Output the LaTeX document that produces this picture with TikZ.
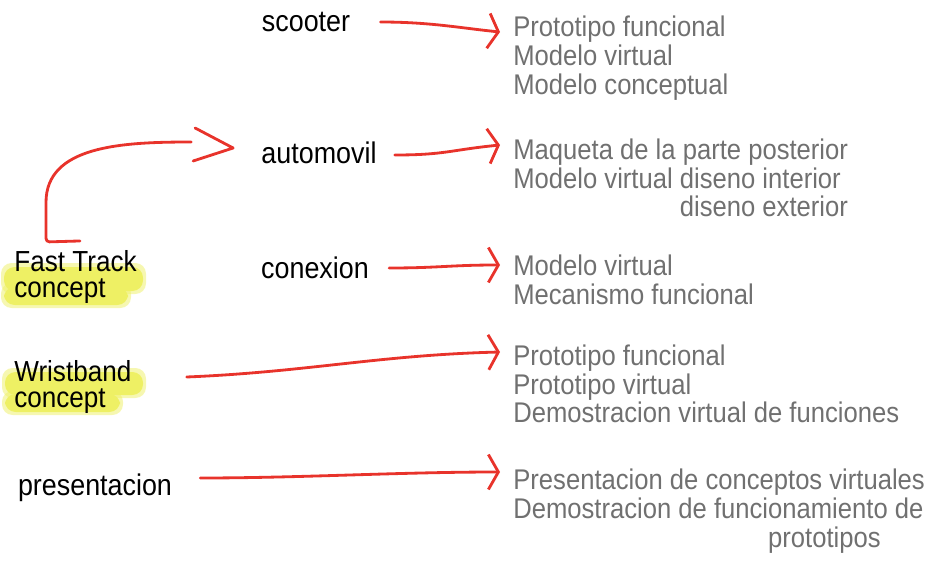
\documentclass[tikz,border=0pt]{standalone}
\usepackage{fontspec}
\newfontfamily\handfont[FakeStretch=0.9]{Liberation Sans}
\usetikzlibrary{arrows.meta, positioning, calc}
\definecolor{penred}{HTML}{E8332B}
\definecolor{pencilgray}{HTML}{707070}
\definecolor{marker}{HTML}{EEF064}

\tikzset{
  topic/.style={inner sep=0pt, text=black, font=\handfont\fontsize{17}{15}\selectfont},
  pair/.style={topic, anchor=west, align=left, font=\handfont\fontsize{16.5}{15}\selectfont},
  result/.style={inner sep=0pt, anchor=west, align=left, text=pencilgray, font=\handfont\fontsize{16.2}{16.4}\selectfont},
  redline/.style={draw=penred, line width=1.6pt, line cap=round},
  redarrow/.style={redline, -{Straight Barb[length=2mm, width=7mm]}},
  hilite/.style={fill=marker, rounded corners=6pt}
}

\begin{document}
\begin{tikzpicture}[x=0.02cm, y=-0.02cm]
  \useasboundingbox (0,0) rectangle (931,561);

  % marker highlights
  \fill[hilite, opacity=0.5] (1,263) rectangle (146,294);
  \fill[hilite, opacity=0.5] (1,283) rectangle (131,308);
  \fill[hilite] (4,267) rectangle (143,291);
  \fill[hilite] (4,287) rectangle (128,305);
  \fill[hilite, opacity=0.5] (2,368) rectangle (146,398);
  \fill[hilite, opacity=0.5] (2,391) rectangle (123,415);
  \fill[hilite] (5,372) rectangle (143,395);
  \fill[hilite] (5,394) rectangle (120,412);

  % topics
  \node[topic] (scooter) at (306,22) {scooter};
  \node[topic] (auto) at (319,153) {automovil};
  \node[topic] (conex) at (315,268) {conexion};
  \node[pair] (fast) at (14,277) {Fast Track\\concept};
  \node[pair] (wrist) at (14,387) {Wristband\\concept};
  \node[topic] (present) at (95,488) {presentacion};

  % results
  \node[result] (rscooter) at (513,58) {Prototipo funcional\\Modelo virtual\\Modelo conceptual};
  \node[result] (rauto) at (513,178) {Maqueta de la parte posterior\\Modelo virtual diseno interior\\\phantom{Modelo virtual }diseno exterior};
  \node[result] (rconex) at (513,280) {Modelo virtual\\Mecanismo funcional};
  \node[result] (rwrist) at (513,384) {Prototipo funcional\\Prototipo virtual\\Demostracion virtual de funciones};
  \node[result] (rpres) at (513,511) {Presentacion de conceptos virtuales\\Demostracion de funcionamiento de\\\phantom{Demostracion de funci}prototipos};

  % arrows
  \draw[redarrow] ($(scooter.east)+(30,0)$) .. controls +(50,0) and +(-40,-4) .. ($(rscooter.west)+(-13,-26)$);
  \draw[redarrow] ($(auto.east)+(18,2)$) .. controls +(50,0) and +(-50,5) .. ($(rauto.west)+(-13,-33)$);
  \draw[redarrow] ($(conex.east)+(20,0)$) .. controls +(50,0) and +(-50,0) .. ($(rconex.west)+(-13,-15)$);
  \draw[redarrow] ($(wrist.east)+(55,-10)$) .. controls +(120,-5) and +(-120,3) .. ($(rwrist.west)+(-13,-32)$);
  \draw[redarrow] ($(present.east)+(28,-10)$) .. controls +(100,0) and +(-100,0) .. ($(rpres.west)+(-13,-39)$);

  % curved arrow
  \coordinate (hook) at ($(fast.north west)+(66,-9)$);
  \draw[redline, rounded corners=2pt] (hook) -- ++(-34,1) -- ++(0,-36) .. controls +(0,-60) and +(-70,0) .. ($(auto.west)+(-70,-11)$);
  \draw[redline, line join=round] ($(auto.west)+(-66,-25)$) -- ($(auto.west)+(-28,-5)$) -- ($(auto.west)+(-68,8)$);
\end{tikzpicture}
\end{document}
